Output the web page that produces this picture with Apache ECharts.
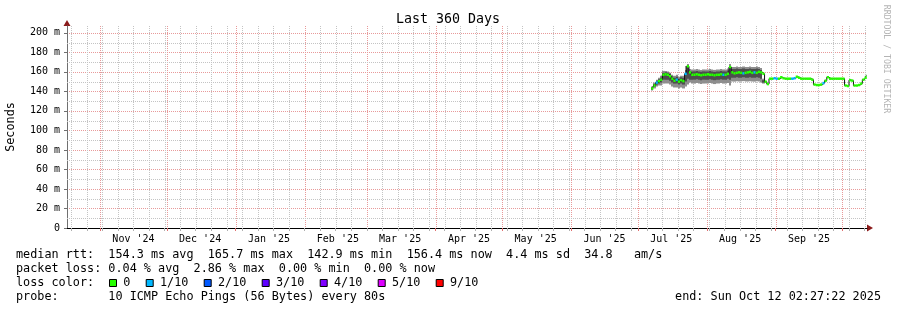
<!DOCTYPE html>
<html><head><meta charset="utf-8">
<script src="https://cdn.jsdelivr.net/npm/echarts@6/dist/echarts.min.js"></script>
<style>html,body{margin:0;padding:0;background:#fff}#c{width:897px;height:310px}</style>
</head><body><div id="c"></div>
<script>
// ---------------- data ----------------
const chartTitle = 'Last 360 Days';
const yName = 'Seconds';
const endTime = Date.UTC(2025, 9, 12, 2, 27, 22);
const spanDays = 360;
const monthStarts = ['2024-11-01','2024-12-01','2025-01-01','2025-02-01','2025-03-01','2025-04-01','2025-05-01','2025-06-01','2025-07-01','2025-08-01','2025-09-01','2025-10-01'];
const monthLabels = ["Nov '24","Dec '24","Jan '25","Feb '25","Mar '25","Apr '25","May '25","Jun '25","Jul '25","Aug '25","Sep '25"];
const firstWeekLine = '2024-10-19';
const yMajorStep = 20;
const yMinorLines = [10,30,50,70,90,110,130,150,170,190];
const yTop = 207;

const dataStart = '2025-07-07'; // one value per day from here
const median = [
 143,146,149,150.5,152,157,157.5,157,155.5,153,151,152,150,151.5,150.5,158,165.7,159.5,157,157,157.5,157,156.5,157,157,
 157.5,157,157,156.5,157,157,157.5,157,157,158,165,159.5,158.5,159,159.5,159,158.5,159,159.5,160,159,159.5,159,160,159.5,158,150,147.5,153,153,153.5,
 153,153,154.5,153.5,153,153,153,153,153.5,155,154,153,153,153,153,153,152,147,146.5,146.5,147,148.5,151,154.5,153,153,153,153,153,153,
 153,146,145.5,151.5,151,146,146,146.5,148,152,154,156.4
];
const lossTenths = [
 0,0,1,0,0,0,0,0,0,0,0,1,0,0,0,1,0,0,0,0,0,0,0,0,0,
 0,0,0,0,0,0,0,1,0,0,0,0,0,0,0,0,1,0,0,0,0,1,0,0,0,0,0,0,0,0,1,
 1,0,0,0,0,0,0,1,1,0,0,0,0,0,0,0,0,0,0,0,0,1,0,0,0,0,0,0,0,0,
 0,0,0,0,0,0,0,0,0,0,0,0
];
// smoke (spread of the pings), Jul 7 .. Aug 27
const smokeLo = [141,143,145,146,146,148,148,148,147,145,144,144,143,144,143,145,147,149,148,148,148.5,148,147.5,148,148,
 148,148.5,148,147.5,148,148,148.5,148,148,148.5,146,150,150,150.5,150,150,150.5,150,150,150.5,150,150,150.5,150,149,148];
const smokeCoreLo = [142,145,147,148,149,152,152,152,151,149,148,148,147,148,147,150,153,152,152,152,152.5,152,151.5,152,152,
 152,152.5,152,151.5,152,152,152.5,152,152,153,152,154,154,154.5,154,154,154.5,154,154,154.5,154,154,154.5,154,153,149];
const smokeCoreHi = [144,147.5,151,152.5,154,159,159.5,159,158,155.5,154,155,153,154.5,154,162,166,161,160.5,160.5,161,160.5,160,160.5,160.5,
 160.5,161,160.5,160,160.5,160.5,161,160.5,160.5,161.5,165,163,163,163.5,163,163,163.5,163,163,163.5,163,163,163.5,163,162,151.5];
const smokeHi = [145,149,152,154,156,161,161,160.5,159,157,156,157,155,156,156,166,168,163,162.5,162.5,163,162.5,162,162.5,162.5,
 162.5,163,162.5,162,162.5,162.5,163,162.5,162.5,163.5,168,165,165,165.5,165,165,165.5,165,165,165.5,165,165,165.5,165,164,153];

const lossLegend = ['0','1/10','2/10','3/10','4/10','5/10','9/10'];
const lossColors = ['#26ff00','#00b8ff','#0059ff','#5e00ff','#7e00ff','#dd00ff','#ff0000'];
const medianStats = ['154.3 ms avg','165.7 ms max','142.9 ms min','156.4 ms now','4.4 ms sd','34.8   am/s'];
const lossStats = ['0.04 % avg','2.86 % max','0.00 % min','0.00 % now'];
const probeText = '10 ICMP Echo Pings (56 Bytes) every 80s';
const endText = 'end: Sun Oct 12 02:27:22 2025';
const watermark = 'RRDTOOL / TOBI OETIKER';

// ---------------- build ----------------
const DAY = 86400000;
const xMax = endTime, xMin = endTime - spanDays * DAY;
const monthTs = monthStarts.map(d => Date.parse(d));
const labelTs = monthTs.slice(0, monthLabels.length).map(t => t + 15 * DAY);
const labelMap = {}; labelTs.forEach((t, i) => labelMap[t] = monthLabels[i]);
const weekTs = []; for (let t = Date.parse(firstWeekLine); t < xMax; t += 7 * DAY) weekTs.push(t);
const d0 = Date.parse(dataStart);
const dayStart = median.map((_, i) => d0 + i * DAY);
const dayEnd = dayStart.map(t => Math.min(t + DAY, xMax));

const gridV = weekTs.map(t => [t, 0]).concat(monthTs.filter(t => t < xMax).map(t => [t, 1]));
const smokeData = smokeLo.map((v, i) => [dayStart[i], dayEnd[i], v, smokeCoreLo[i], smokeCoreHi[i], smokeHi[i]]);
const segData = median.map((v, i) => [dayStart[i], dayEnd[i], v, lossTenths[i]]);
const lineData = median.map((v, i) => [(dayStart[i] + dayEnd[i]) / 2, v]);

const MONO = '"DejaVu Sans Mono", monospace';
const LF = '11.8px ' + MONO;
const CW = 7.1;
const rowY = [255, 269, 283, 297];
const RED = '#e89a9a', GRAY = '#c4c4c4';

const graphics = [
  {type:'text', x:448, y:20, style:{text:chartTitle, font:'13.3px ' + MONO, fill:'#000', textAlign:'center', textVerticalAlign:'middle'}},
  {type:'text', x:11, y:127, rotation:Math.PI/2, style:{text:yName, font:LF, fill:'#000', textAlign:'center', textVerticalAlign:'middle'}},
  {type:'text', x:886, y:59, rotation:-Math.PI/2, style:{text:watermark, font:'8.2px ' + MONO, fill:'#b4b4b4', textAlign:'center', textVerticalAlign:'middle'}},
  {type:'polygon', shape:{points:[[867,224.5],[873,228],[867,231.5]]}, style:{fill:'#8b1a1a'}},
  {type:'polygon', shape:{points:[[63.5,26],[67,20],[70.5,26]]}, style:{fill:'#8b1a1a'}},
  {type:'text', x:16, y:rowY[0], style:{text:'median rtt:  ' + medianStats.join('  '), font:LF, fill:'#000', textVerticalAlign:'middle'}},
  {type:'text', x:16, y:rowY[1], style:{text:'packet loss: ' + lossStats.join('  '), font:LF, fill:'#000', textVerticalAlign:'middle'}},
  {type:'text', x:16, y:rowY[2], style:{text:'loss color:', font:LF, fill:'#000', textVerticalAlign:'middle'}},
  {type:'text', x:16, y:rowY[3], style:{text:'probe:       ' + probeText, font:LF, fill:'#000', textVerticalAlign:'middle'}},
  {type:'text', x:881, y:rowY[3], style:{text:endText, font:LF, fill:'#000', textAlign:'right', textVerticalAlign:'middle'}}
];
let bx = 109;
lossLegend.forEach((lab, i) => {
  graphics.push({type:'rect', shape:{x:bx + 0.5, y:279.5, width:7, height:7}, style:{fill:lossColors[i], stroke:'#000', lineWidth:1}});
  const tx = bx + 14.3;
  graphics.push({type:'text', x:tx, y:rowY[2], style:{text:lab, font:LF, fill:'#000', textVerticalAlign:'middle'}});
  bx = tx + lab.length * CW + 15.3;
});

const chart = echarts.init(document.getElementById('c'), null, {renderer:'canvas'});
chart.setOption({
  animation:false,
  backgroundColor:'#fff',
  textStyle:{fontFamily:MONO},
  grid:{left:67, right:30, top:26, bottom:82},
  xAxis:[
    {type:'value', min:xMin, max:xMax,
     axisLine:{show:true, lineStyle:{color:'#000', width:1}},
     axisTick:{show:true, customValues:monthTs, length:3, lineStyle:{color:'#e07070'}},
     axisLabel:{show:true, customValues:labelTs, formatter:v => labelMap[v] || '', fontSize:10, fontFamily:MONO, color:'#000', margin:6},
     splitLine:{show:false}},
    {type:'value', min:xMin, max:xMax, position:'bottom', gridIndex:0,
     axisLine:{show:false},
     axisTick:{show:true, customValues:weekTs, length:3, lineStyle:{color:'#b0b0b0'}},
     axisLabel:{show:false}, splitLine:{show:false}}
  ],
  yAxis:{type:'value', min:0, max:yTop, interval:yMajorStep,
    axisLine:{show:true, lineStyle:{color:'#707070'}},
    axisTick:{show:true, length:3, lineStyle:{color:'#707070'}},
    axisLabel:{formatter:v => v === 0 ? '0' : (v <= 200 ? v + ' m' : ''), fontSize:10, fontFamily:MONO, color:'#000', margin:7, showMaxLabel:false},
    splitLine:{show:true, showMaxLine:false, lineStyle:{color:RED, type:[1,1]}}},
  series:[
    {type:'custom', name:'vgrid', z:1, silent:true, clip:true, data:gridV, encode:{x:0, y:1},
     renderItem:(p, api) => {
       const a = api.coord([api.value(0), yTop]), b = api.coord([api.value(0), 0]);
       const x = Math.round(a[0]) + 0.5;
       return {type:'line', shape:{x1:x, y1:a[1], x2:x, y2:b[1]}, style:{stroke:api.value(1) ? RED : GRAY, lineWidth:1, lineDash:[1,1]}};
     }},
    {type:'custom', name:'hgrid', z:1, silent:true, clip:true, data:yMinorLines.map(v => [v]), encode:{y:0},
     renderItem:(p, api) => {
       const a = api.coord([xMin, api.value(0)]), b = api.coord([xMax, api.value(0)]);
       const y = Math.round(a[1]) + 0.5;
       return {type:'line', shape:{x1:a[0], y1:y, x2:b[0], y2:y}, style:{stroke:GRAY, lineWidth:1, lineDash:[1,1]}};
     }},
    {type:'custom', name:'smoke', z:2, silent:true, clip:true, data:smokeData, encode:{x:[0,1], y:[2,5]},
     renderItem:(p, api) => {
       const t0 = api.value(0), t1 = api.value(1);
       const x0 = Math.round(api.coord([t0, 0])[0]), x1 = Math.round(api.coord([t1, 0])[0]);
       const yLo = api.coord([t0, api.value(2)])[1], yCL = api.coord([t0, api.value(3)])[1];
       const yCH = api.coord([t0, api.value(4)])[1], yHi = api.coord([t0, api.value(5)])[1];
       return {type:'group', children:[
         {type:'rect', shape:{x:x0, y:yHi, width:x1 - x0, height:yLo - yHi}, style:{fill:'#8e8e8e'}},
         {type:'rect', shape:{x:x0, y:yCH, width:x1 - x0, height:yCL - yCH}, style:{fill:'#4e4e4e'}}
       ]};
     }},
    {type:'line', name:'median', z:3, silent:true, data:lineData, step:'middle', showSymbol:false,
     lineStyle:{color:'#101010', width:1}},
    {type:'custom', name:'loss', z:4, silent:true, clip:true, data:segData, encode:{x:[0,1], y:2},
     renderItem:(p, api) => {
       const a = api.coord([api.value(0), api.value(2)]), b = api.coord([api.value(1), api.value(2)]);
       return {type:'line', shape:{x1:a[0], y1:a[1], x2:b[0], y2:b[1]}, style:{stroke:lossColors[api.value(3)], lineWidth:2.5}};
     }}
  ],
  graphic:graphics
});
</script>
</body></html>
